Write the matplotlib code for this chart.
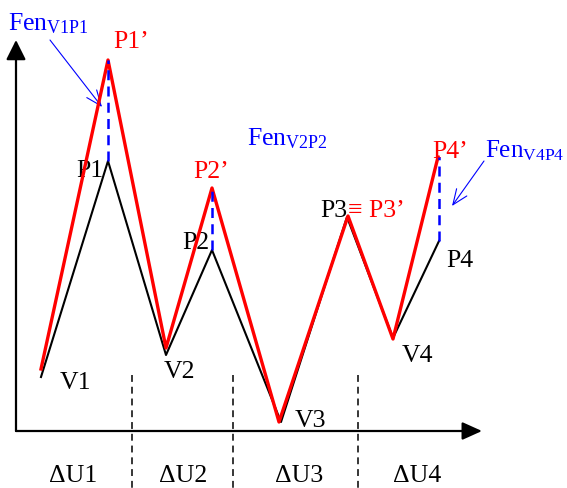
import matplotlib
matplotlib.use("Agg")
import matplotlib.pyplot as plt

plt.rcParams['font.family'] = ['Liberation Serif', 'DejaVu Serif']
plt.rcParams['mathtext.fontset'] = 'custom'
plt.rcParams['mathtext.rm'] = 'Liberation Serif'
plt.rcParams['mathtext.it'] = 'Liberation Serif'

# Schematic data (x position, height above the horizontal axis)
black_x = [25, 92, 150, 196, 265, 331, 377, 423]
black_y = [54, 270, 76, 181, 9, 214, 93, 190]
red_x = [25, 92, 150, 196, 263, 332, 377, 422]
red_y = [62, 371, 83, 243, 9, 215, 92, 274]

black_labels = ['V1', 'P1', 'V2', 'P2', 'V3', 'P3', 'V4', 'P4']
black_label_pos = [(44, 42), (60, 254), (148, 53), (166, 182),
                   (279, 4), (304, 214), (386, 69), (430, 164)]
red_labels = ["P1\u2019", "P2\u2019", "\u2261 P3\u2019", "P4\u2019"]
red_label_pos = [(97, 383), (177, 253), (332, 214), (416, 273)]

sep_x = [116, 217, 342]
du_labels = ['\u0394U1', '\u0394U2', '\u0394U3', '\u0394U4']
du_x = [57, 167, 283, 401]

fen_labels = [r'Fen$_{\mathrm{V1P1}}$', r'Fen$_{\mathrm{V2P2}}$', r'Fen$_{\mathrm{V4P4}}$']
fen_pos = [(-8, 401), (231, 286), (469, 274)]
fen_arrows = [((34, 391), (86, 324)), None, ((468, 270), (436, 225))]
gap_pairs = [(92, 270, 371), (196, 181, 243), (423, 190, 274)]

fig = plt.figure(figsize=(5.67, 4.88), dpi=100)
ax = fig.add_axes([0, 0, 1, 1])
ax.set_xlim(-16, 551)
ax.set_ylim(-57, 431)
ax.axis('off')

# axes with arrows
ax.annotate('', xy=(0, 391), xytext=(0, 0),
            arrowprops=dict(arrowstyle='-|>,head_length=0.6,head_width=0.3',
                            lw=1.6, color='black', mutation_scale=20,
                            shrinkA=0, shrinkB=0))
ax.annotate('', xy=(466, 0), xytext=(0, 0),
            arrowprops=dict(arrowstyle='-|>,head_length=0.6,head_width=0.27',
                            lw=1.6, color='black', mutation_scale=20,
                            shrinkA=0, shrinkB=0))

# separators
for x in sep_x:
    ax.plot([x, x], [56, -57], color='black', lw=1.1,
            linestyle=(0, (4.5, 3.2)))

# lines
ax.plot(black_x, black_y, color='black', lw=1.5, zorder=3)
ax.plot(red_x, red_y, color='#ff0000', lw=2.4, zorder=4)

# blue dashed gaps
for x, y0, y1 in gap_pairs:
    ax.plot([x, x], [y0, y1], color='#0000ff', lw=1.8,
            linestyle=(0, (4, 2.5)), zorder=5)

fs = 18.5
for t, (x, y) in zip(black_labels, black_label_pos):
    ax.text(x, y, t, color='black', fontsize=fs, ha='left', va='baseline')
for t, (x, y) in zip(red_labels, red_label_pos):
    ax.text(x, y, t, color='#ff0000', fontsize=fs, ha='left', va='baseline')
for t, x in zip(du_labels, du_x):
    ax.text(x, -51, t, color='black', fontsize=fs, ha='center', va='baseline')

for i, (t, (x, y), arr) in enumerate(zip(fen_labels, fen_pos, fen_arrows)):
    ax.text(x, y, t, color='#0000ff', fontsize=fs if i < 2 else 18,
            ha='left', va='baseline')
    if arr is not None:
        ax.annotate('', xy=arr[1], xytext=arr[0],
                    arrowprops=dict(arrowstyle='->,head_length=1.1,head_width=0.45',
                                    lw=0.8, color='#0000ff', mutation_scale=10,
                                    shrinkA=0, shrinkB=0))

fig.savefig('out.png', dpi=100)
